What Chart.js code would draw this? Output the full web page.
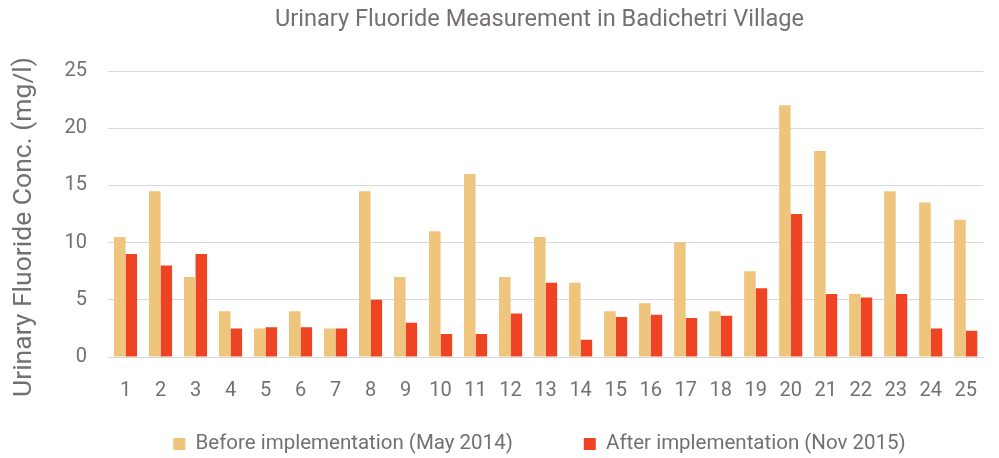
<!DOCTYPE html>
<html>
<head>
<meta charset="utf-8">
<script src="https://cdn.jsdelivr.net/npm/chart.js@4"></script>
<style>
  html, body { margin: 0; padding: 0; background: #fff; }
  #wrap { width: 999px; height: 458px; position: relative; }
</style>
</head>
<body>
<div id="wrap"><canvas id="c" width="999" height="458"></canvas></div>
<script>
const categories = ['1','2','3','4','5','6','7','8','9','10','11','12','13','14','15','16','17','18','19','20','21','22','23','24','25'];
const beforeValues = [10.5, 14.5, 7, 4, 2.5, 4, 2.5, 14.5, 7, 11, 16, 7, 10.5, 6.5, 4, 4.7, 10, 4, 7.5, 22, 18, 5.5, 14.5, 13.5, 12];
const afterValues  = [9, 8, 9, 2.5, 2.6, 2.6, 2.5, 5, 3, 2, 2, 3.8, 6.5, 1.5, 3.5, 3.7, 3.4, 3.6, 6, 12.5, 5.5, 5.2, 5.5, 2.5, 2.3];
const yTicks = [0, 5, 10, 15, 20, 25];
const seriesNames = ['Before implementation (May 2014)', 'After implementation (Nov 2015)'];
const titleText = 'Urinary Fluoride Measurement in Badichetri Village';
const yAxisTitle = 'Urinary Fluoride Conc. (mg/l)';

const TEXT = '#757070';
const FONT = 'Roboto, "Open Sans", sans-serif';
const LEGEND_PAD = 71;
const LEGEND_FONT = 20.5;
const LEGEND_CENTER_Y = 444;

const layoutPlugin = {
  id: 'layoutTweaks',
  beforeLayout(chart) {
    const lg = chart.legend;
    if (lg && !lg._patchedFit) {
      const orig = lg.fit.bind(lg);
      lg.fit = function () { orig(); this.height = 57; };
      lg._patchedFit = true;
    }
  },
  afterLayout(chart) {
    const dx = 41;
    const lg = chart.legend;
    if (lg) {
      lg.left += dx; lg.right += dx;
      const itemH = Math.max(12, LEGEND_FONT);
      lg.top = LEGEND_CENTER_Y - LEGEND_PAD - itemH / 2;
      lg.bottom = chart.height;
    }
    if (chart.titleBlock) { chart.titleBlock.left += dx; chart.titleBlock.right += dx; }
    const ys = chart.scales.y;
    if (ys && !ys._patchedTitle) {
      const origTitle = ys.drawTitle.bind(ys);
      ys.drawTitle = function () {
        const ctx = this.ctx;
        ctx.save();
        ctx.translate(0, 13);
        origTitle();
        ctx.restore();
      };
      ys._patchedTitle = true;
    }
  }
};

new Chart(document.getElementById('c'), {
  type: 'bar',
  data: {
    labels: categories,
    datasets: [
      { label: seriesNames[0], data: beforeValues, backgroundColor: '#EFC47D', borderWidth: 0 },
      { label: seriesNames[1], data: afterValues, backgroundColor: '#EF4423', borderWidth: 0 }
    ]
  },
  options: {
    responsive: false,
    animation: false,
    devicePixelRatio: 1,
    layout: { padding: { left: 0, right: 2, top: 0, bottom: 0 } },
    datasets: { bar: { categoryPercentage: 0.66, barPercentage: 1.0 } },
    plugins: {
      title: {
        display: true,
        text: titleText,
        color: TEXT,
        font: { family: FONT, size: 23.6, weight: 'normal' },
        padding: { top: 6, bottom: 36.7 }
      },
      legend: {
        display: true,
        position: 'bottom',
        labels: {
          color: TEXT,
          font: { family: FONT, size: LEGEND_FONT },
          boxWidth: 12,
          boxHeight: 12,
          padding: LEGEND_PAD
        }
      },
      tooltip: { enabled: false }
    },
    scales: {
      x: {
        grid: { display: false, drawTicks: false },
        border: { display: true, color: '#D9D9D9', width: 1 },
        ticks: { color: TEXT, font: { family: FONT, size: 20 }, padding: 22, maxRotation: 0, autoSkip: false },
        afterFit(s) { s.height = 44; }
      },
      y: {
        min: 0, max: 25,
        afterBuildTicks(s) { s.ticks = yTicks.map(v => ({ value: v })); },
        grid: { color: '#D9D9D9', lineWidth: 1, drawTicks: false },
        border: { display: false },
        ticks: { color: TEXT, font: { family: FONT, size: 20 }, padding: 21 },
        title: {
          display: true,
          text: yAxisTitle,
          color: TEXT,
          font: { family: FONT, size: 26.5, weight: 'normal' },
          padding: { top: 8, bottom: 0 }
        },
        afterFit(s) { s.width = 108; }
      }
    }
  },
  plugins: [layoutPlugin]
});
</script>
</body>
</html>
